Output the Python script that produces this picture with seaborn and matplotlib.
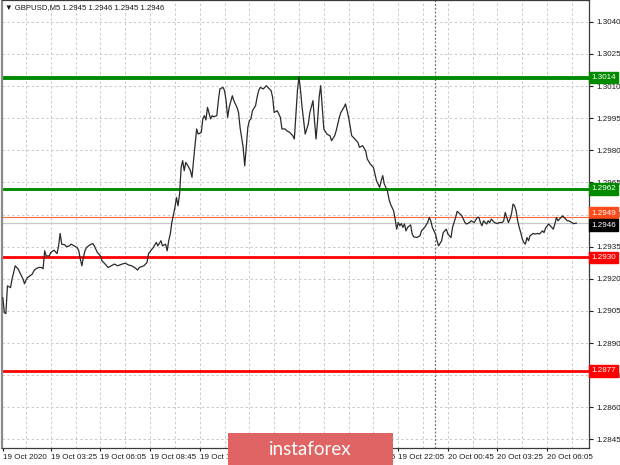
import numpy as np
import pandas as pd
import matplotlib
matplotlib.use("Agg")
import matplotlib.pyplot as plt
import seaborn as sns
from matplotlib.patches import Rectangle

# ---------------- data ----------------
bars = [0, 1, 2, 3, 5, 6, 7, 8, 10, 11, 13, 14, 15, 16, 19, 20, 21, 23, 25, 26,
        27, 28, 30, 31, 33, 35, 36, 37, 38, 40, 41, 43, 44, 46, 48, 49, 50, 51, 52, 53,
        54, 56, 58, 59, 61, 63, 64, 66, 68, 70, 72, 74, 77, 79, 81, 83, 85, 87, 88, 91,
        93, 94, 97, 99, 100, 102, 103, 105, 106, 107, 108, 109, 111, 112, 113, 114, 115, 116, 117, 118,
        120, 121, 122, 123, 125, 126, 128, 129, 130, 131, 132, 134, 135, 136, 138, 139, 140, 142, 143, 144,
        145, 146, 148, 149, 151, 152, 153, 155, 156, 157, 158, 159, 160, 161, 163, 164, 165, 166, 168, 170,
        171, 173, 174, 175, 177, 178, 179, 180, 182, 183, 185, 187, 188, 189, 190, 191, 192, 193, 194, 195,
        197, 198, 200, 201, 202, 203, 204, 205, 206, 207, 209, 211, 212, 214, 215, 217, 218, 220, 221, 222,
        223, 225, 226, 228, 229, 230, 232, 234, 235, 237, 239, 240, 241, 243, 244, 245, 246, 248, 249, 250,
        252, 253, 254, 255, 256, 257, 258, 259, 260, 261, 263, 264, 265, 267, 269, 270, 272, 274, 275, 276,
        277, 279, 280, 281, 283, 284, 286, 287, 288, 289, 290, 292, 293, 295, 296, 298, 299, 301, 302, 304,
        306, 307, 308, 309, 310, 312, 313, 314, 315, 317, 319, 320, 322, 323, 324, 325, 326, 327, 328, 329,
        330, 331, 332, 333, 334, 335, 336, 337, 338, 339, 340, 342, 343, 345, 346, 348, 349, 350, 352, 353,
        355, 356, 357, 358, 359, 360, 361, 363, 364, 365, 367, 368, 370]

close = [1.29113, 1.29042, 1.29038, 1.29167, 1.29159, 1.29200, 1.29229, 1.29261, 1.29245, 1.29229,
         1.29200, 1.29177, 1.29195, 1.29206, 1.29222, 1.29237, 1.29245, 1.29253, 1.29253, 1.29247,
         1.29331, 1.29307, 1.29307, 1.29323, 1.29334, 1.29318, 1.29354, 1.29412, 1.29362, 1.29359,
         1.29350, 1.29354, 1.29362, 1.29354, 1.29346, 1.29331, 1.29292, 1.29261, 1.29300, 1.29331,
         1.29346, 1.29358, 1.29365, 1.29354, 1.29323, 1.29307, 1.29284, 1.29269, 1.29253, 1.29261,
         1.29269, 1.29261, 1.29269, 1.29273, 1.29265, 1.29261, 1.29253, 1.29241, 1.29253, 1.29261,
         1.29276, 1.29318, 1.29346, 1.29370, 1.29354, 1.29378, 1.29354, 1.29362, 1.29331, 1.29378,
         1.29409, 1.29463, 1.29533, 1.29580, 1.29541, 1.29596, 1.29720, 1.29752, 1.29705, 1.29744,
         1.29720, 1.29705, 1.29674, 1.29752, 1.29900, 1.29876, 1.29884, 1.29947, 1.29962, 1.29942,
         1.30001, 1.29947, 1.29962, 1.29957, 1.29962, 1.30032, 1.30087, 1.30094, 1.30079, 1.30032,
         1.29954, 1.30001, 1.30055, 1.30032, 1.30001, 1.29977, 1.29907, 1.29814, 1.29728, 1.29814,
         1.29907, 1.29939, 1.29947, 1.29985, 1.30009, 1.30048, 1.30079, 1.30094, 1.30087, 1.30102,
         1.30094, 1.30079, 1.30048, 1.29977, 1.29985, 1.29970, 1.29954, 1.29900, 1.29900, 1.29892,
         1.29884, 1.29868, 1.29853, 1.29970, 1.30079, 1.30144, 1.30079, 1.30001, 1.29939, 1.29876,
         1.29923, 1.29977, 1.30032, 1.29939, 1.29853, 1.29939, 1.30048, 1.30102, 1.30001, 1.29900,
         1.29876, 1.29868, 1.29845, 1.29868, 1.29892, 1.29954, 1.29977, 1.30001, 1.30017, 1.29985,
         1.29954, 1.29868, 1.29861, 1.29845, 1.29837, 1.29814, 1.29822, 1.29798, 1.29760, 1.29736,
         1.29720, 1.29689, 1.29658, 1.29627, 1.29658, 1.29682, 1.29643, 1.29611, 1.29573, 1.29549,
         1.29518, 1.29479, 1.29432, 1.29463, 1.29448, 1.29458, 1.29440, 1.29456, 1.29424, 1.29440,
         1.29452, 1.29409, 1.29396, 1.29393, 1.29401, 1.29424, 1.29440, 1.29463, 1.29487, 1.29471,
         1.29440, 1.29409, 1.29378, 1.29354, 1.29378, 1.29416, 1.29432, 1.29409, 1.29401, 1.29393,
         1.29440, 1.29487, 1.29515, 1.29502, 1.29494, 1.29463, 1.29456, 1.29463, 1.29471, 1.29463,
         1.29487, 1.29487, 1.29463, 1.29448, 1.29471, 1.29456, 1.29471, 1.29463, 1.29479, 1.29463,
         1.29458, 1.29463, 1.29463, 1.29471, 1.29510, 1.29487, 1.29463, 1.29479, 1.29502, 1.29549,
         1.29541, 1.29518, 1.29471, 1.29440, 1.29416, 1.29386, 1.29370, 1.29362, 1.29393, 1.29378,
         1.29401, 1.29412, 1.29409, 1.29412, 1.29409, 1.29424, 1.29416, 1.29437, 1.29456, 1.29448,
         1.29432, 1.29456, 1.29487, 1.29471, 1.29479, 1.29487, 1.29494, 1.29479, 1.29471, 1.29471,
         1.29463, 1.29458, 1.29460]

green_levels = [1.3014, 1.2962]
red_levels = [1.2930, 1.2877]
ask_level = 1.2949
bid_level = 1.2946

price_ticks = [1.2845, 1.2860, 1.2875, 1.2890, 1.2905, 1.2920, 1.2935, 1.2950,
               1.2965, 1.2980, 1.2995, 1.3010, 1.3025, 1.3040]
time_tick_bars = [0, 31, 63, 95, 127, 159, 191, 223, 255, 287, 319, 351]
time_tick_labels = ["19 Oct 2020", "19 Oct 03:25", "19 Oct 06:05", "19 Oct 08:45",
                    "19 Oct 11:25", "19 Oct 14:05", "19 Oct 16:45", "19 Oct 19:25",
                    "19 Oct 22:05", "20 Oct 00:45", "20 Oct 03:25", "20 Oct 06:05"]
day_separator_bar = 279
title_text = "\u25bc GBPUSD,M5 1.2945 1.2946 1.2945 1.2946"
watermark = "instaforex"

# ---------------- figure ----------------
sns.set_style("white")
plt.rcParams['font.family'] = ['Liberation Sans', 'DejaVu Sans']

W, H = 620, 465
Y_TOP_PRICE, Y_BOT_PRICE = 1.30500, 1.28410
fig = plt.figure(figsize=(W / 100, H / 100), dpi=100)
ax = fig.add_axes([2 / W, 1 - 448 / H, (589 - 2) / W, 448 / H - 0.001])

df = pd.DataFrame({"bar": bars, "close": close})

# grid
grid_col = "#c9c9c9"
for p in price_ticks:
    ax.axhline(p, color=grid_col, lw=0.7, ls=(0, (2.5, 2.5)), zorder=0)
for b in range(15, 378, 16):
    ax.axvline(b, color=grid_col, lw=0.7, ls=(0, (2.5, 2.5)), zorder=0)
ax.axvline(day_separator_bar, color="#707070", lw=0.9, ls=(0, (1.5, 1.5)), zorder=1)

# levels
ax.axhline(green_levels[0], color="#008a00", lw=2.8, zorder=2)
ax.axhline(green_levels[1], color="#008a00", lw=2.1, zorder=2)
for lv in red_levels:
    ax.axhline(lv, color="#ff0000", lw=2.0, zorder=2)
ax.axhline(ask_level, color="#ff6a3d", lw=0.8, zorder=2)
ax.axhline(bid_level, color="#c8c8c8", lw=0.9, zorder=2)

sns.lineplot(data=df, x="bar", y="close", color="#2a2a2a", linewidth=0.9, ax=ax, zorder=3)

ax.set_xlim(-0.5, 378)
ax.set_ylim(Y_BOT_PRICE, Y_TOP_PRICE)
ax.set_xlabel("")
ax.set_ylabel("")

ax.yaxis.tick_right()
ax.set_yticks(price_ticks)
ax.set_yticklabels([f"{p:.4f}" for p in price_ticks])
ax.tick_params(axis="y", which="both", direction="out", length=3, width=0.8,
               labelsize=5.8, pad=2, colors="#1a1a1a", right=True, left=False)
ax.set_xticks(time_tick_bars)
ax.set_xticklabels(time_tick_labels)
ax.tick_params(axis="x", direction="out", length=2.5, width=0.8, labelsize=5.8,
               pad=1.5, colors="#1a1a1a", bottom=True)
for lab in ax.get_xticklabels():
    lab.set_ha("left")

for side in ["top", "right", "bottom", "left"]:
    ax.spines[side].set_visible(True)
    ax.spines[side].set_color("#3a3a3a")
    ax.spines[side].set_linewidth(0.9)
ax.spines["left"].set_color("#8a8a8a")
ax.spines["left"].set_linewidth(1.6)

# price labels on the right axis
def price_box(val, face, dy=0, z=10):
    ax.annotate(f"{val:.4f}", xy=(1.0, val), xycoords=("axes fraction", "data"),
                xytext=(1.5, dy), textcoords="offset points", ha="left", va="center",
                fontsize=5.8, color="white", zorder=z, annotation_clip=False,
                bbox=dict(boxstyle="square,pad=0.3", fc=face, ec=face))

for lv in green_levels:
    price_box(lv, "#008a00")
for lv in red_levels:
    price_box(lv, "#ff0000")
price_box(ask_level, "#ff4a1a", dy=2.5, z=10)
price_box(bid_level, "#000000", dy=-1.5, z=11)

# title inside the chart
ax.text(0.005, 0.992, title_text, transform=ax.transAxes, ha="left", va="top",
        fontsize=5.6, color="#1a1a1a", zorder=12)

# watermark
fig.patches.append(Rectangle((228 / W, 0), (393 - 228) / W, (465 - 433) / H,
                             transform=fig.transFigure, facecolor="#e16464",
                             edgecolor="none", zorder=20))
fig.text((228 + 393) / 2 / W, (465 - 449) / H, watermark, ha="center", va="center",
         color="white", fontsize=13.5, family=["Lato", "DejaVu Sans"], zorder=21)

fig.savefig("out.png", dpi=100)
